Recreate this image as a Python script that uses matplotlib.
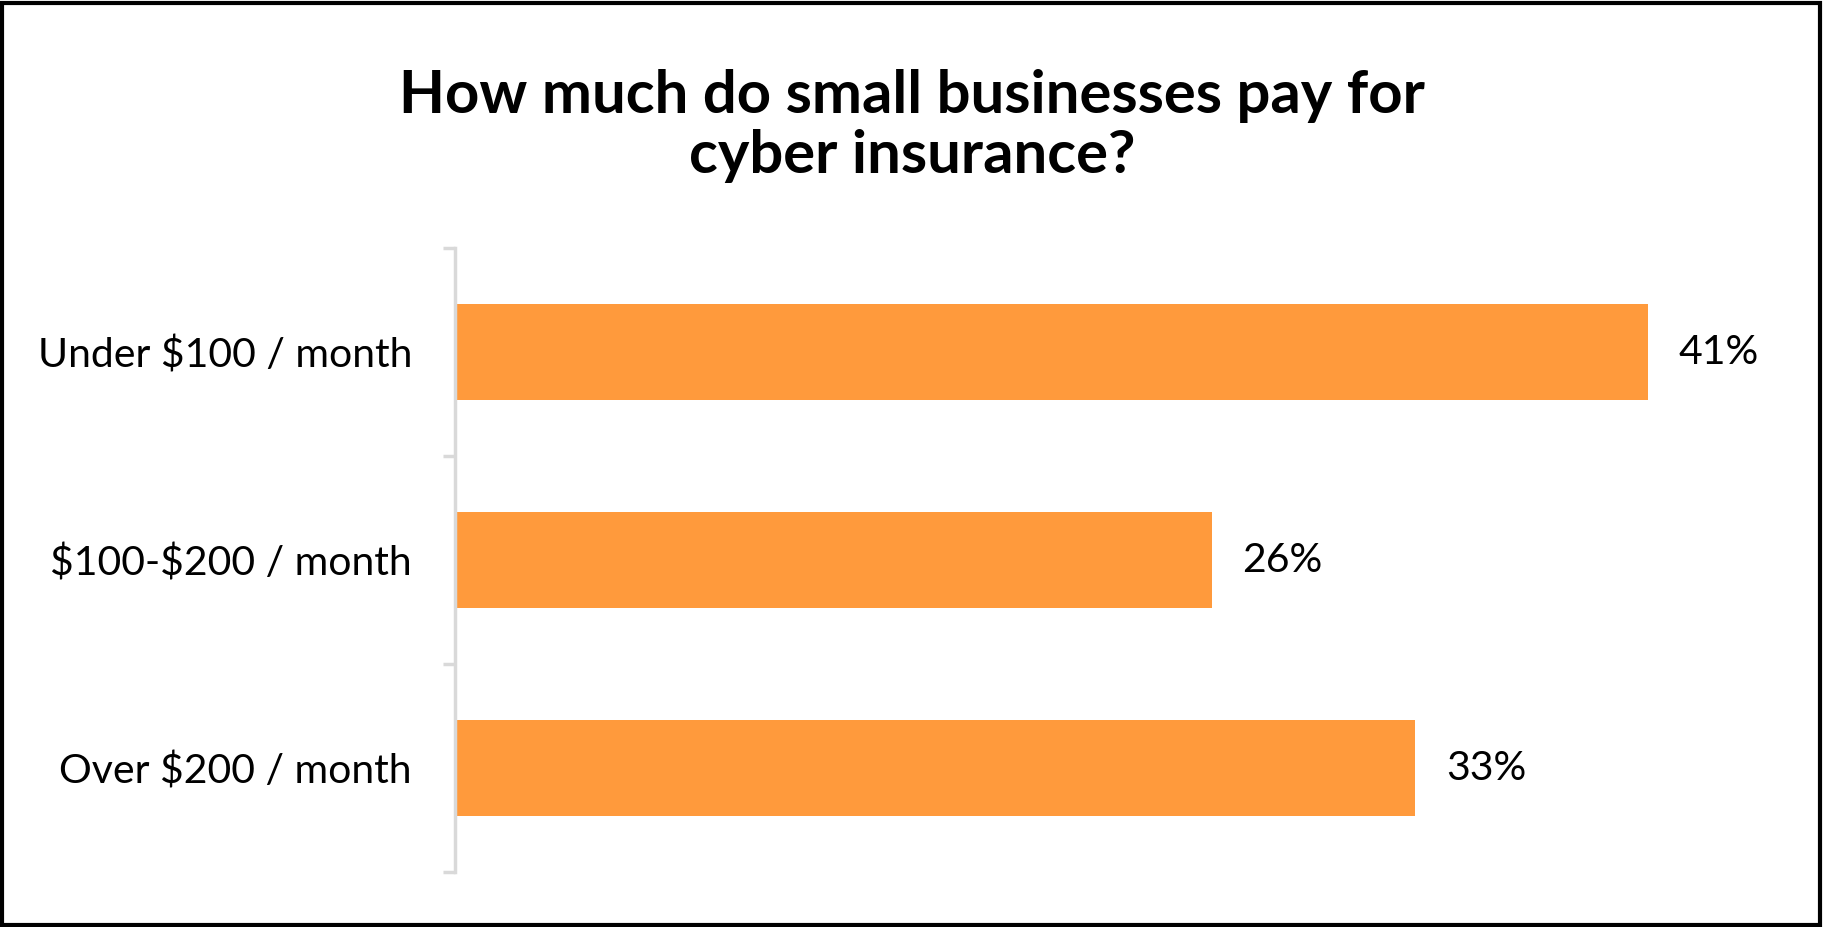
import matplotlib.pyplot as plt
from matplotlib.patches import Rectangle

# chart data
categories = ['Under $100 / month', '$100-$200 / month', 'Over $200 / month']
values = [41, 26, 33]
title = 'How much do small businesses pay for\ncyber insurance?'

bar_color = '#FF9A3C'
axis_color = '#D9D9D9'

plt.rcParams['font.family'] = ['Lato', 'DejaVu Sans']
plt.rcParams['text.parse_math'] = False

fig = plt.figure(figsize=(18.24, 9.27), dpi=100)
W, H = 1824, 927

# plot area in pixel terms
left, right = 455, 455 + 45 * 29.1
top, bottom = 248, 872
ax = fig.add_axes([left / W, 1 - bottom / H, (right - left) / W, (bottom - top) / H])

ypos = list(range(len(categories)))
ax.barh(ypos, values, height=0.46, color=bar_color)
ax.set_xlim(0, 45)
ax.set_ylim(len(categories) - 0.5, -0.5)

for y, v in zip(ypos, values):
    ax.text(v + 1.05, y, f'{v}%', va='center', ha='left', fontsize=29.5, color='black')

ax.set_yticks(ypos)
ax.set_yticklabels(categories, fontsize=29.5)
ax.set_yticks([i - 0.5 for i in range(len(categories) + 1)], minor=True)
ax.tick_params(axis='y', which='major', length=0, pad=31)
ax.tick_params(axis='y', which='minor', length=9, width=2.5, color=axis_color, direction='out')
ax.set_xticks([])

for s in ['top', 'right', 'bottom']:
    ax.spines[s].set_visible(False)
ax.spines['left'].set_color(axis_color)
ax.spines['left'].set_linewidth(2.5)

fig.text(0.5, 1 - 126 / H, title, ha='center', va='center', fontsize=43,
         fontweight='bold', linespacing=1.12)

# outer frame
fig.patches.append(Rectangle((0.001, 0.002), 0.997, 0.995, transform=fig.transFigure,
                             fill=False, edgecolor='black', linewidth=3))

fig.savefig('out.png', dpi=100)
